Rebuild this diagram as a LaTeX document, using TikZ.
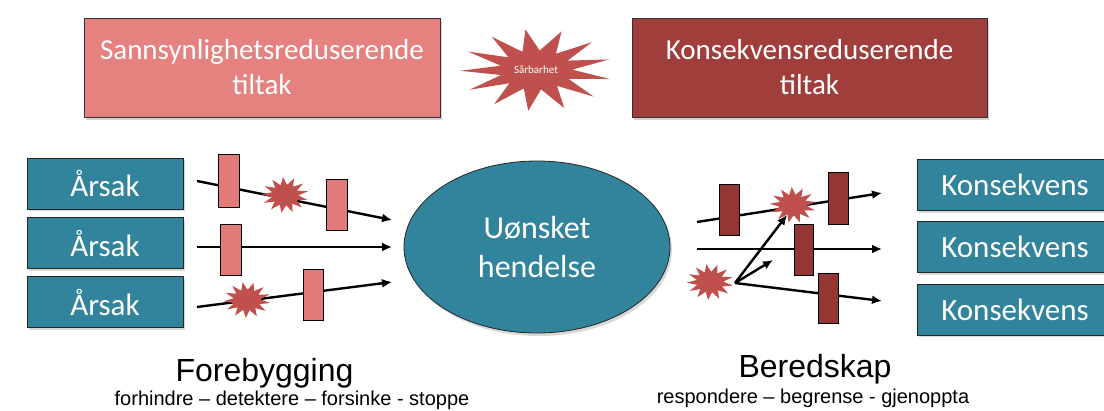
\documentclass[tikz,border=0pt]{standalone}
\usepackage{fontspec}
\setmainfont{Carlito}
\newfontfamily\arialf{Liberation Sans}
\usetikzlibrary{arrows.meta,shapes.symbols,shapes.geometric,shadows}
\definecolor{salmon}{HTML}{E5827F}
\definecolor{wine}{HTML}{A03E3C}
\definecolor{burst}{HTML}{C0504D}
\definecolor{tealc}{HTML}{31849B}
\definecolor{lightbar}{HTML}{E07B78}
\definecolor{darkbar}{HTML}{943634}
\tikzset{
  topbox/.style={draw=black!80, line width=0.8pt, minimum width=356pt, minimum height=99pt,
    text=white, align=center, font=\fontsize{29}{35}\selectfont,
    drop shadow={opacity=0.35, shadow xshift=2pt, shadow yshift=-3pt}},
  tealbox/.style={draw=black!85, line width=0.8pt, fill=tealc, minimum height=51pt,
    text=white, font=\fontsize{31}{36}\selectfont,
    drop shadow={opacity=0.3, shadow xshift=2pt, shadow yshift=-2pt}},
  barl/.style={draw=black, line width=0.6pt, fill=lightbar, minimum width=21pt, minimum height=51pt, inner sep=0pt},
  bard/.style={draw=black, line width=0.6pt, fill=darkbar, minimum width=20pt, minimum height=51pt, inner sep=0pt},
  smallburst/.style={star, star points=13, star point ratio=1.75, fill=burst, draw=none,
    minimum size=36pt, inner sep=0pt, xscale=1.3, transform shape},
  arr/.style={line width=2.4pt, -{Latex[length=10pt,width=9pt]}},
  bigtitle/.style={font=\arialf\fontsize{32}{36}\selectfont, anchor=base},
  subtitle/.style={font=\arialf\fontsize{20}{24}\selectfont, anchor=base}
}
\begin{document}
\begin{tikzpicture}[x=1pt,y=-1pt]
\useasboundingbox (0,0) rectangle (1104,410);
\fill[white] (0,0) rectangle (1104,410);

% top row
\node[topbox, fill=salmon] (sann) at (262,67.5) {Sannsynlighetsreduserende\\tiltak};
\node[topbox, fill=wine, minimum width=355pt] (kons) at (809.5,67.5) {Konsekvensreduserende\\tiltak};
\node[star, star points=13, star point ratio=2.1, fill=burst, draw=none, minimum size=82pt,
  inner sep=0pt, xscale=1.85, rotate=8, transform shape] (sar) at (536,70) {};
\node[text=white, font=\fontsize{11}{13}\selectfont] (sartext) at (sar.center) {Sårbarhet};

% causes
\node[tealbox, minimum width=156pt] (a1) at (105,183.5) {Årsak};
\node[tealbox, minimum width=156pt] (a2) at (105,243) {Årsak};
\node[tealbox, minimum width=156pt] (a3) at (105,302) {Årsak};

% consequences
\node[tealbox, minimum width=196pt] (k1) at (1015,185) {Konsekvens};
\node[tealbox, minimum width=196pt] (k2) at (1015,247) {Konsekvens};
\node[tealbox, minimum width=196pt] (k3) at (1015,309.5) {Konsekvens};

% event
\node[ellipse, draw=black!85, line width=0.8pt, fill=tealc, minimum width=266pt, minimum height=172pt,
  text=white, align=center, font=\fontsize{32}{39}\selectfont,
  drop shadow={opacity=0.3, shadow xshift=2pt, shadow yshift=-3pt}] (ev) at (537,247) {Uønsket\\hendelse};

% arrow endpoints
\coordinate (l1s) at (197,181); \coordinate (l1e) at (392,220);
\coordinate (l2s) at (197,247); \coordinate (l2e) at (392,247);
\coordinate (l3s) at (197,307); \coordinate (l3e) at (392,282);
\coordinate (r1s) at (697,222); \coordinate (r1e) at (882,193);
\coordinate (r2s) at (697,249); \coordinate (r2e) at (882,249);
\coordinate (src) at (735,283); \coordinate (r3e) at (882,301);
\coordinate (up1) at (787,215); \coordinate (up2) at (773,260);

\draw[arr] (l1s) -- (l1e);
\draw[arr] (l2s) -- (l2e);
\draw[arr] (l3s) -- (l3e);
\draw[arr] (r1s) -- (r1e);
\draw[arr] (r2s) -- (r2e);
\draw[arr] (src) -- (r3e);
\draw[arr] (src) -- (up1);
\draw[arr] (src) -- (up2);

% barriers left
\node[barl, minimum height=53pt] (b1) at (229,180.5) {};
\node[smallburst, rotate=5] (s1) at (285,195) {};
\node[barl] (b2) at (336.5,204.5) {};
\node[barl] (b3) at (230.5,249.5) {};
\node[smallburst, rotate=11] (s2) at (247,300) {};
\node[barl, minimum width=20pt] (b4) at (313,294.5) {};

% barriers right
\node[bard] (d1) at (729,209.5) {};
\node[smallburst, rotate=3] (s3) at (793,205) {};
\node[bard, minimum height=52pt] (d2) at (838,198) {};
\node[bard, minimum width=19pt] (d3) at (803.5,249.5) {};
\node[bard, minimum height=50pt] (d4) at (828,298) {};
\node[smallburst, rotate=9] (s4) at (710,282) {};

% bottom texts
\node[bigtitle] (fore) at (264.5,381) {Forebygging};
\node[subtitle] (foresub) at (292,405) {forhindre – detektere – forsinke - stoppe};
\node[bigtitle] (bered) at (815,377) {Beredskap};
\node[subtitle] (beredsub) at (813,403) {respondere – begrense - gjenoppta};
\end{tikzpicture}
\end{document}
